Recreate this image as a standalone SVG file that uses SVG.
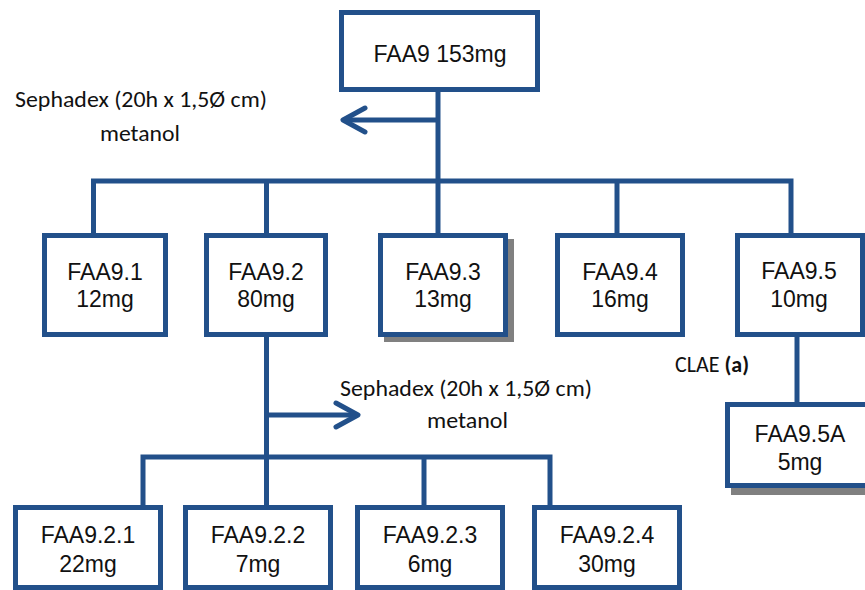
<svg xmlns="http://www.w3.org/2000/svg" width="865" height="590" viewBox="0 0 865 590">
  <style>
    .box { fill: #ffffff; stroke: #22508a; stroke-width: 5; }
    .shadow { fill: #808080; }
    .wire { fill: none; stroke: #22508a; stroke-width: 5; }
    .head { fill: none; stroke: #22508a; stroke-width: 5; stroke-linecap: round; stroke-linejoin: round; }
    .lbl { font-family: "Liberation Sans", Arial, sans-serif; font-size: 23px; fill: #111111; text-anchor: middle; }
    .note { font-family: Carlito, Lato, "Liberation Sans", sans-serif; font-size: 22px; fill: #111111; }
  </style>
  <rect width="865" height="590" fill="#ffffff"/>

  <!-- connectors -->
  <g id="connectors">
    <!-- main trunk and side arrow -->
    <path class="wire" d="M438 90 V181"/>
    <path class="wire" d="M438 120 H345"/>
    <path class="head" d="M365 108 L343 120 L365 132"/>
    <!-- first-level bus -->
    <path class="wire" d="M93.5 236 V181 H791 V236"/>
    <path class="wire" d="M266.5 181 V236"/>
    <path class="wire" d="M438 181 V236"/>
    <path class="wire" d="M617 181 V236"/>
    <!-- FAA9.2 trunk and side arrow -->
    <path class="wire" d="M266.5 335 V457"/>
    <path class="wire" d="M266.5 415 H356"/>
    <path class="head" d="M336 403 L358 415 L336 427"/>
    <!-- second-level bus -->
    <path class="wire" d="M143 508 V457 H550 V508"/>
    <path class="wire" d="M266.5 457 V508"/>
    <path class="wire" d="M424 457 V508"/>
    <!-- FAA9.5 to FAA9.5A -->
    <path class="wire" d="M797 335 V405"/>
  </g>

  <!-- notes -->
  <text class="note" x="15" y="107" textLength="252" lengthAdjust="spacingAndGlyphs">Sephadex (20h x 1,5Ø cm)</text>
  <text class="note" x="100" y="141" textLength="80" lengthAdjust="spacingAndGlyphs">metanol</text>
  <text class="note" x="340" y="396" textLength="252" lengthAdjust="spacingAndGlyphs">Sephadex (20h x 1,5Ø cm)</text>
  <text class="note" x="427" y="428" textLength="81" lengthAdjust="spacingAndGlyphs">metanol</text>
  <text class="note" x="675" y="372">CLAE <tspan font-weight="bold">(a)</tspan></text>

  <!-- nodes -->
  <g id="n-faa9">
    <rect class="box" x="341.5" y="12.5" width="196" height="77"/>
    <text class="lbl" x="440" y="62" font-size="24">FAA9 153mg</text>
  </g>

  <g id="n-faa9-1">
    <rect class="box" x="44.5" y="235.5" width="121" height="99"/>
    <text class="lbl" x="105" y="280">FAA9.1</text>
    <text class="lbl" x="105" y="307">12mg</text>
  </g>
  <g id="n-faa9-2">
    <rect class="box" x="206.5" y="235.5" width="119" height="99"/>
    <text class="lbl" x="266" y="280">FAA9.2</text>
    <text class="lbl" x="266" y="307">80mg</text>
  </g>
  <g id="n-faa9-3">
    <rect class="shadow" x="384" y="239" width="130" height="103"/>
    <rect class="box" x="380.5" y="235.5" width="125" height="99"/>
    <text class="lbl" x="443" y="280">FAA9.3</text>
    <text class="lbl" x="443" y="307">13mg</text>
  </g>
  <g id="n-faa9-4">
    <rect class="box" x="557.5" y="235.5" width="125" height="99"/>
    <text class="lbl" x="620" y="280">FAA9.4</text>
    <text class="lbl" x="620" y="307">16mg</text>
  </g>
  <g id="n-faa9-5">
    <rect class="box" x="737.5" y="235.5" width="125" height="99"/>
    <text class="lbl" x="799" y="279">FAA9.5</text>
    <text class="lbl" x="799" y="307">10mg</text>
  </g>
  <g id="n-faa9-5a">
    <rect class="shadow" x="731" y="408" width="150" height="87"/>
    <rect class="box" x="727.5" y="404.5" width="150" height="81"/>
    <text class="lbl" x="800" y="442">FAA9.5A</text>
    <text class="lbl" x="800" y="470">5mg</text>
  </g>

  <g id="n-faa9-2-1">
    <rect class="box" x="15.5" y="507.5" width="145" height="80"/>
    <text class="lbl" x="88" y="543">FAA9.2.1</text>
    <text class="lbl" x="88" y="572">22mg</text>
  </g>
  <g id="n-faa9-2-2">
    <rect class="box" x="185.5" y="507.5" width="145" height="80"/>
    <text class="lbl" x="258" y="543">FAA9.2.2</text>
    <text class="lbl" x="258" y="572">7mg</text>
  </g>
  <g id="n-faa9-2-3">
    <rect class="box" x="357.5" y="507.5" width="145" height="80"/>
    <text class="lbl" x="430" y="543">FAA9.2.3</text>
    <text class="lbl" x="430" y="572">6mg</text>
  </g>
  <g id="n-faa9-2-4">
    <rect class="box" x="534.5" y="507.5" width="145" height="80"/>
    <text class="lbl" x="607" y="543">FAA9.2.4</text>
    <text class="lbl" x="607" y="572">30mg</text>
  </g>
</svg>
